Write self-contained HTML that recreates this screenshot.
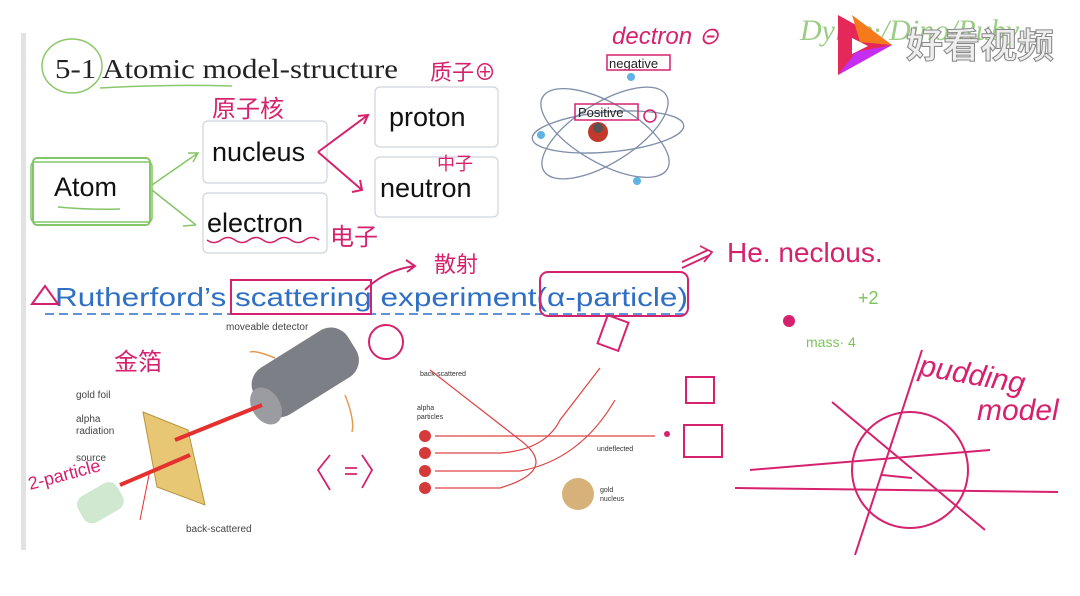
<!DOCTYPE html>
<html><head><meta charset="utf-8"><style>
html,body{margin:0;padding:0;background:#fff;width:1080px;height:596px;overflow:hidden}
svg{display:block}
.hw{font-family:"Liberation Sans","Noto Sans CJK SC",sans-serif;fill:#d6226e}
</style></head><body>
<svg width="1080" height="596" viewBox="0 0 1080 596" xmlns="http://www.w3.org/2000/svg">
<rect width="1080" height="596" fill="#fff"/>
<rect x="21" y="33" width="5" height="517" fill="#e2e2e2"/>

<!-- title -->
<text x="55" y="78" font-family="Liberation Serif,serif" font-size="27" fill="#222" textLength="343" lengthAdjust="spacingAndGlyphs">5-1 Atomic model-structure</text>
<ellipse cx="72" cy="66" rx="30" ry="27" fill="none" stroke="#8cc86a" stroke-width="1.5"/>
<path d="M100 88 Q170 84 232 86" stroke="#8cc86a" stroke-width="1.5" fill="none"/>

<!-- boxes -->
<g fill="#fff" stroke="#cfd4dc" stroke-width="1.2">
<rect x="203" y="121" width="124" height="62" rx="5"/>
<rect x="203" y="193" width="124" height="60" rx="5"/>
<rect x="375" y="87" width="123" height="60" rx="5"/>
<rect x="375" y="157" width="123" height="60" rx="5"/>
</g>
<rect x="33" y="158" width="117" height="67" rx="4" fill="none" stroke="#84c567" stroke-width="2"/>
<rect x="31" y="162" width="121" height="60" rx="4" fill="none" stroke="#84c567" stroke-width="1.5"/>
<g font-family="Liberation Sans,sans-serif" font-size="27" fill="#111">
<text x="54" y="196">Atom</text>
<text x="212" y="161">nucleus</text>
<text x="207" y="232">electron</text>
<text x="389" y="126">proton</text>
<text x="380" y="197">neutron</text>
</g>
<path d="M58 207 Q90 210 120 209" stroke="#84c567" stroke-width="1.5" fill="none"/>
<path d="M152 185 L198 153 M188 153 L198 153 L193 162 M152 190 L196 225 M183 226 L196 225" stroke="#84c567" stroke-width="1.5" fill="none"/>
<path d="M207 240 q7 5 14 0 q7 -5 14 0 q7 5 14 0 q7 -5 14 0 q7 5 14 0 q7 -5 14 0 q7 5 14 0 q7 -5 14 0" stroke="#d6226e" stroke-width="1.5" fill="none"/>
<path d="M318 152 L368 115 M358 116 L368 115 L364 124 M318 152 L362 190 M352 192 L362 190 L360 180" stroke="#d6226e" stroke-width="2" fill="none"/>
<text class="hw" x="212" y="117" font-size="24">原子核</text>
<text class="hw" x="430" y="80" font-size="22">质子⊕</text>
<text class="hw" x="437" y="170" font-size="18">中子</text>
<text class="hw" x="330" y="245" font-size="24">电子</text>
<text class="hw" x="434" y="272" font-size="22">散射</text>
<path d="M365 290 Q385 270 415 266 M406 260 L415 266 L407 272" stroke="#d6226e" stroke-width="2" fill="none"/>

<!-- atom image -->
<g fill="none" stroke="#7f8ea8" stroke-width="1.3">
<ellipse cx="608" cy="132" rx="76" ry="20" transform="rotate(-5 608 132)"/>
<ellipse cx="605" cy="133" rx="72" ry="30" transform="rotate(30 605 133)"/>
<ellipse cx="605" cy="133" rx="72" ry="30" transform="rotate(-32 605 133)"/>
</g>
<g fill="#5fb2e2"><circle cx="631" cy="77" r="4"/><circle cx="541" cy="135" r="4"/><circle cx="637" cy="181" r="4"/></g>
<circle cx="598" cy="132" r="10" fill="#c0392b"/><circle cx="598" cy="128" r="5" fill="#555"/>
<text x="578" y="117" font-family="Liberation Sans,sans-serif" font-size="13" fill="#222">Positive</text>
<rect x="575" y="104" width="63" height="16" fill="none" stroke="#d6226e" stroke-width="1.5"/>
<text x="609" y="68" font-family="Liberation Sans,sans-serif" font-size="13" fill="#222">negative</text>
<rect x="607" y="55" width="63" height="15" fill="none" stroke="#d6226e" stroke-width="1.5"/>
<circle cx="650" cy="116" r="6" fill="none" stroke="#d6226e" stroke-width="1.5"/>
<text class="hw" x="612" y="44" font-size="24" font-style="italic">dectron ⊝</text>

<!-- logo -->
<text x="800" y="40" font-family="Liberation Serif,serif" font-style="italic" font-size="30" fill="#9ccd85">Dylan·/Dino/Ruby</text>
<polygon points="838,15 892,45 838,75" fill="#e4295a"/>
<polygon points="852,15 892,45 860,42" fill="#f57a1c"/>
<polygon points="838,75 892,45 856,52" fill="#c42ef2"/>
<polygon points="852,38 868,46 852,54" fill="#fff"/>
<text x="906" y="58" font-family="Noto Sans CJK SC,sans-serif" font-size="35" font-weight="bold" fill="#eee" stroke="#888" stroke-width="1" textLength="148" lengthAdjust="spacingAndGlyphs">好看视频</text>

<!-- Rutherford -->
<text x="55" y="306" font-family="Liberation Sans,sans-serif" font-size="26" fill="#2f6fc4" textLength="633" lengthAdjust="spacingAndGlyphs">Rutherford’s scattering experiment(α-particle)</text>
<line x1="45" y1="314" x2="688" y2="314" stroke="#2f6fc4" stroke-width="1.5" stroke-dasharray="9,5"/>
<path d="M32 304 L45 286 L58 304 Z" fill="none" stroke="#d6226e" stroke-width="2"/>
<rect x="231" y="280" width="140" height="34" fill="none" stroke="#d6226e" stroke-width="2"/>
<rect x="540" y="272" width="148" height="44" rx="8" fill="none" stroke="#d6226e" stroke-width="2"/>
<path d="M682 268 L710 255 M682 262 L708 250 M700 246 L712 252 L704 262" stroke="#d6226e" stroke-width="1.8" fill="none"/>
<text class="hw" x="727" y="262" font-size="28">He. neclous.</text>
<text x="858" y="304" font-family="Liberation Sans,sans-serif" font-size="18" fill="#7cc45a">+2</text>
<text x="806" y="347" font-family="Liberation Sans,sans-serif" font-size="14" fill="#7cc45a">mass· 4</text>
<circle cx="789" cy="321" r="6" fill="#d6226e"/>

<!-- left experiment -->
<text x="226" y="330" font-family="Liberation Sans,sans-serif" font-size="10" fill="#444">moveable detector</text>
<text x="76" y="398" font-family="Liberation Sans,sans-serif" font-size="10" fill="#444">gold foil</text>
<text x="76" y="422" font-family="Liberation Sans,sans-serif" font-size="10" fill="#444">alpha</text>
<text x="76" y="434" font-family="Liberation Sans,sans-serif" font-size="10" fill="#444">radiation</text>
<text x="76" y="461" font-family="Liberation Sans,sans-serif" font-size="10" fill="#444">source</text>
<text x="186" y="532" font-family="Liberation Sans,sans-serif" font-size="10" fill="#444">back-scattered</text>
<polygon points="143,412 188,430 205,505 157,487" fill="#e8c774" stroke="#b8953e"/>
<rect x="250" y="345" width="110" height="55" rx="20" fill="#7d7f86" transform="rotate(-32 305 372)"/>
<ellipse cx="266" cy="406" rx="14" ry="20" fill="#9b9ca2" transform="rotate(-32 266 406)"/>
<path d="M120 485 L190 455 M175 440 L262 405" stroke="#e53030" stroke-width="4"/>
<rect x="78" y="488" width="45" height="30" rx="10" fill="#cfe8cf" transform="rotate(-30 100 503)"/>
<path d="M150 470 L140 520" stroke="#e53030" stroke-width="1"/>
<text class="hw" x="114" y="370" font-size="24">金箔</text>
<text class="hw" x="30" y="490" font-size="18" transform="rotate(-15 30 490)">2-particle</text>
<path d="M330 455 L318 470 L330 490 M345 468 L357 468 M345 474 L357 474 M362 455 L372 470 L362 488" stroke="#d6226e" stroke-width="1.8" fill="none"/>
<circle cx="386" cy="342" r="17" fill="none" stroke="#d6226e" stroke-width="2"/>
<path d="M275 358 Q255 350 250 352 M345 395 Q355 420 352 432" stroke="#e69a50" stroke-width="1.5" fill="none"/>

<!-- right scattering diagram -->
<text x="420" y="376" font-family="Liberation Sans,sans-serif" font-size="7" fill="#333">back-scattered</text>
<text x="417" y="410" font-family="Liberation Sans,sans-serif" font-size="7" fill="#333">alpha</text>
<text x="417" y="419" font-family="Liberation Sans,sans-serif" font-size="7" fill="#333">particles</text>
<text x="597" y="451" font-family="Liberation Sans,sans-serif" font-size="7" fill="#333">undeflected</text>
<text x="600" y="492" font-family="Liberation Sans,sans-serif" font-size="7" fill="#333">gold</text>
<text x="600" y="501" font-family="Liberation Sans,sans-serif" font-size="7" fill="#333">nucleus</text>
<g fill="#d43a3a"><circle cx="425" cy="436" r="6"/><circle cx="425" cy="453" r="6"/><circle cx="425" cy="471" r="6"/><circle cx="425" cy="488" r="6"/></g>
<g stroke="#d44" stroke-width="1.2" fill="none">
<line x1="435" y1="436" x2="655" y2="436"/>
<path d="M435 453 L500 453 Q545 450 560 420 L600 368"/>
<path d="M435 471 L520 471 Q580 460 615 400"/>
<path d="M435 488 L500 488 Q560 470 520 440 L430 370"/>
</g>
<circle cx="578" cy="494" r="16" fill="#d6b27a"/>
<g stroke="#d6226e" stroke-width="2" fill="none">
<rect x="602" y="318" width="22" height="30" transform="rotate(20 613 333)"/>
<rect x="686" y="377" width="28" height="26"/>
<rect x="684" y="425" width="38" height="32"/>
</g>
<circle cx="667" cy="434" r="3" fill="#d6226e"/>

<!-- pudding -->
<g stroke="#d6226e" stroke-width="2" fill="none">
<circle cx="910" cy="470" r="58"/>
<path d="M735 488 L1058 492 M750 470 L990 450 M832 402 L985 530 M922 350 L855 555 M882 475 L912 478"/>
</g>
<text class="hw" x="918" y="375" font-size="30" font-style="italic" transform="rotate(10 918 375)">pudding</text>
<text class="hw" x="977" y="420" font-size="30" font-style="italic">model</text>
</svg>
</body></html>
